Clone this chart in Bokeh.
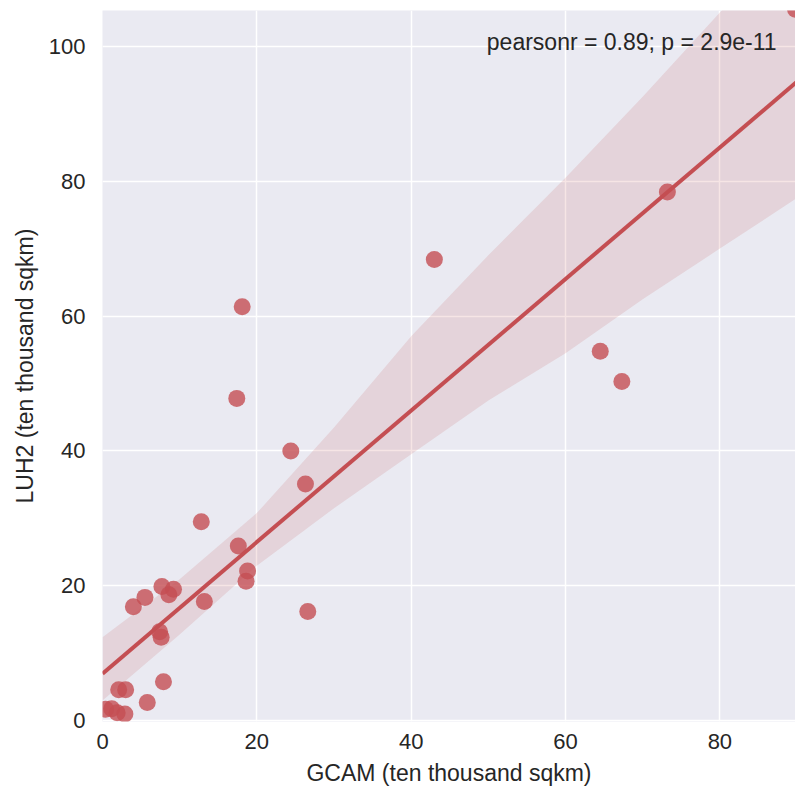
from bokeh.plotting import figure
from bokeh.models import Range1d, Label
from bokeh.embed import file_html
from bokeh.resources import INLINE

# Scatter data (ten thousand sqkm)
gcam = [89.8, 73.2, 43.0, 64.5, 67.3, 18.1, 17.4, 24.4, 26.3, 12.8, 17.6, 18.8, 18.6,
        26.6, 13.2, 7.7, 9.2, 8.6, 5.5, 4.0, 7.4, 7.6, 7.9, 5.8, 2.1, 3.0, 0.4, 1.2, 1.9, 2.9]
luh2 = [105.5, 78.4, 68.4, 54.8, 50.3, 61.4, 47.8, 40.0, 35.1, 29.5, 25.9, 22.2, 20.7,
        16.2, 17.7, 19.9, 19.5, 18.7, 18.3, 16.9, 13.2, 12.4, 5.8, 2.7, 4.6, 4.6, 1.7, 1.8, 1.2, 1.0]

# Regression line and confidence band
fit_x = [0, 90]
fit_y = [7.0, 94.75]
band_x = [0, 10, 20, 30, 40, 50, 60, 70, 80, 90]
band_upper = [12.4, 21.0, 30.8, 43.5, 57.0, 69.0, 80.5, 92.5, 105.0, 118.0]
band_lower = [3.0, 12.8, 23.0, 31.5, 39.5, 47.5, 54.5, 62.5, 70.0, 77.5]

x_ticks = [0, 20, 40, 60, 80]
y_ticks = [0, 20, 40, 60, 80, 100]

annotation = "pearsonr = 0.89; p = 2.9e-11"

RED = "#c44e52"
FONT = "Liberation Sans"
TXT = "#262626"

p = figure(width=795, height=792, output_backend="svg", toolbar_location=None,
           x_range=Range1d(0, 89.8), y_range=Range1d(-0.1, 105.3),
           min_border_left=102, min_border_right=0, min_border_top=10, min_border_bottom=71)

p.background_fill_color = "#eaeaf2"
p.border_fill_color = "white"
p.outline_line_color = None

for ax in (p.xaxis[0], p.yaxis[0]):
    ax.axis_line_color = None
    ax.major_tick_line_color = None
    ax.minor_tick_line_color = None
    ax.major_tick_out = 0
    ax.major_tick_in = 0
    ax.minor_tick_out = 0
    ax.minor_tick_in = 0
    ax.major_label_text_font = FONT
    ax.major_label_text_font_size = "22px"
    ax.major_label_text_color = TXT
    ax.axis_label_text_font = FONT
    ax.axis_label_text_font_size = "23px"
    ax.axis_label_text_font_style = "normal"
    ax.axis_label_text_color = TXT

p.xaxis.ticker = x_ticks
p.yaxis.ticker = y_ticks
p.xaxis.major_label_standoff = 12
p.yaxis.major_label_standoff = 17
p.xaxis.axis_label = "GCAM (ten thousand sqkm)"
p.yaxis.axis_label = "LUH2 (ten thousand sqkm)"
p.xaxis.axis_label_standoff = 8
p.yaxis.axis_label_standoff = 8

p.xgrid.grid_line_color = "white"
p.ygrid.grid_line_color = "white"
p.xgrid.grid_line_width = 1.5
p.ygrid.grid_line_width = 1.5

p.varea(x=band_x, y1=band_lower, y2=band_upper, fill_color=RED, fill_alpha=0.15)
p.scatter(gcam, luh2, size=17, fill_color=RED, fill_alpha=0.8, line_color=None)
p.line(fit_x, fit_y, line_color=RED, line_width=4)

p.add_layout(Label(x=49.8, y=100.7, text=annotation, text_font=FONT, text_font_size="23px",
                   text_color=TXT, text_baseline="middle", text_align="left"))

open("out.html", "w").write(file_html(p, INLINE))
